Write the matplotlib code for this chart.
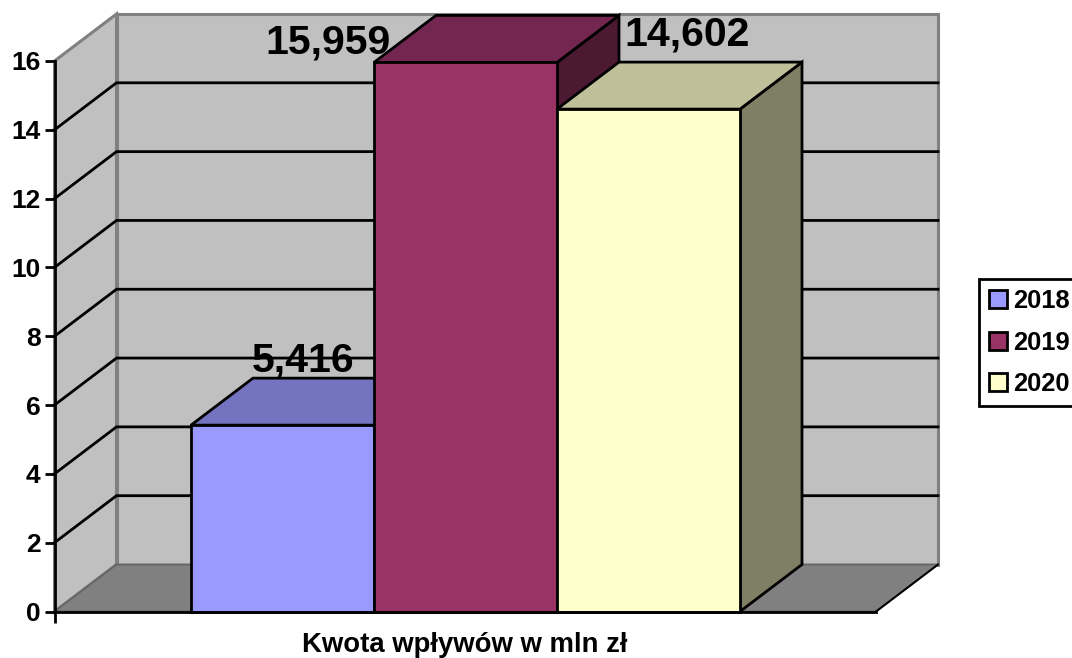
import matplotlib

matplotlib.use("Agg")
import matplotlib.pyplot as plt
from matplotlib.patches import Patch, Polygon

plt.rcParams["font.family"] = ["Liberation Sans", "DejaVu Sans"]
plt.rcParams["font.weight"] = "bold"

years = ["2018", "2019", "2020"]
values = [5.416, 15.959, 14.602]
value_labels = ["5,416", "15,959", "14,602"]
front_colors = ["#9999FF", "#993366", "#FFFFCC"]
top_colors = ["#7373BF", "#732650", "#BFBF99"]
side_colors = ["#4C4C7F", "#4C1933", "#7F7F66"]
y_ticks = [0, 2, 4, 6, 8, 10, 12, 14, 16]
x_label = "Kwota wpływów w mln zł"

W, H = 1072, 658
FRONT_LEFT, FRONT_RIGHT, FRONT_TOP, FRONT_BOTTOM = 54.5, 876, 61, 611.5
BAR_PX = 183
BAR_START_PX = 191
LINE = 2.0

# depth of the fake 3D box, in data units
DX = 62 / BAR_PX
DY = 47 / ((FRONT_BOTTOM - FRONT_TOP) / 16)

fig = plt.figure(figsize=(W / 100, H / 100), dpi=100)
ax = fig.add_axes(
    [
        FRONT_LEFT / W,
        1 - FRONT_BOTTOM / H,
        (FRONT_RIGHT - FRONT_LEFT) / W,
        (FRONT_BOTTOM - FRONT_TOP) / H,
    ]
)
x_min = (FRONT_LEFT - BAR_START_PX) / BAR_PX
x_max = (FRONT_RIGHT - BAR_START_PX) / BAR_PX
ax.set_xlim(x_min, x_max)
ax.set_ylim(0, 16)
ax.patch.set_visible(False)


def add_poly(points, face, edge="none", lw=0.0, zorder=1):
    ax.add_patch(
        Polygon(points, closed=True, facecolor=face, edgecolor=edge, linewidth=lw,
                clip_on=False, zorder=zorder, joinstyle="miter")
    )


# walls and floor
top = y_ticks[-1]
add_poly([(x_min + DX, DY), (x_max + DX, DY), (x_max + DX, top + DY), (x_min + DX, top + DY)],
         "#C0C0C0", "#808080", 2.2, 1)
add_poly([(x_min, 0), (x_min + DX, DY), (x_min + DX, top + DY), (x_min, top)],
         "#C0C0C0", "#808080", 2.2, 1)
add_poly([(x_min, 0), (x_max, 0), (x_max + DX, DY), (x_min + DX, DY)],
         "#808080", "#666666", 1.4, 1.5)
ax.plot([x_max, x_max + DX], [0, DY], color="black", lw=1.4, clip_on=False, zorder=1.6)

# gridlines
for tick in y_ticks[1:-1]:
    ax.plot([x_min, x_min + DX, x_max + DX], [tick, tick + DY, tick + DY],
            color="black", lw=LINE, clip_on=False, zorder=2, solid_joinstyle="miter")

# bars
for i, (value, front, top_c, side) in enumerate(zip(values, front_colors, top_colors, side_colors)):
    z = 3 + i
    add_poly([(i + 1, 0), (i + 1 + DX, DY), (i + 1 + DX, value + DY), (i + 1, value)],
             side, "black", LINE, z)
    add_poly([(i, value), (i + 1, value), (i + 1 + DX, value + DY), (i + DX, value + DY)],
             top_c, "black", LINE, z)
    add_poly([(i, 0), (i + 1, 0), (i + 1, value), (i, value)], front, "black", LINE, z)

# value labels, offsets in pixels from the front top-left corner of each bar
label_offsets = [(112, 65), (-46, 20), (130, 75)]
for i, (value, text, (dx, dy)) in enumerate(zip(values, value_labels, label_offsets)):
    ax.annotate(text, (i, value), xytext=(dx * 0.72, dy * 0.72), textcoords="offset points",
                ha="center", va="center", fontsize=29.5, color="black", zorder=10,
                annotation_clip=False)

# axes
for name in ("top", "right"):
    ax.spines[name].set_visible(False)
for name in ("left", "bottom"):
    ax.spines[name].set_linewidth(LINE)
    ax.spines[name].set_zorder(8)
ax.set_yticks(y_ticks)
ax.tick_params(axis="y", length=7, width=LINE, labelsize=19, pad=3)
ax.set_xticks([x_min])
ax.set_xticklabels([""])
ax.tick_params(axis="x", length=8, width=LINE)
ax.set_xlabel(x_label, fontsize=19.8, fontweight="bold", labelpad=3)

# legend frame runs off the right edge as in the source, text stays inside
handles = [Patch(facecolor=c, edgecolor="black", linewidth=LINE) for c in front_colors]
legend = fig.legend(
    handles, years, loc="upper left", bbox_to_anchor=(979 / W, 1 - 279 / H),
    bbox_transform=fig.transFigure, fontsize=18.4, frameon=True, fancybox=False,
    edgecolor="black", framealpha=1, borderpad=0.4, labelspacing=0.68,
    handlelength=0.7, handleheight=0.7, handletextpad=0.24, borderaxespad=0,
)
legend.get_frame().set_linewidth(LINE)

fig.savefig("out.png", dpi=100)
plt.close(fig)
